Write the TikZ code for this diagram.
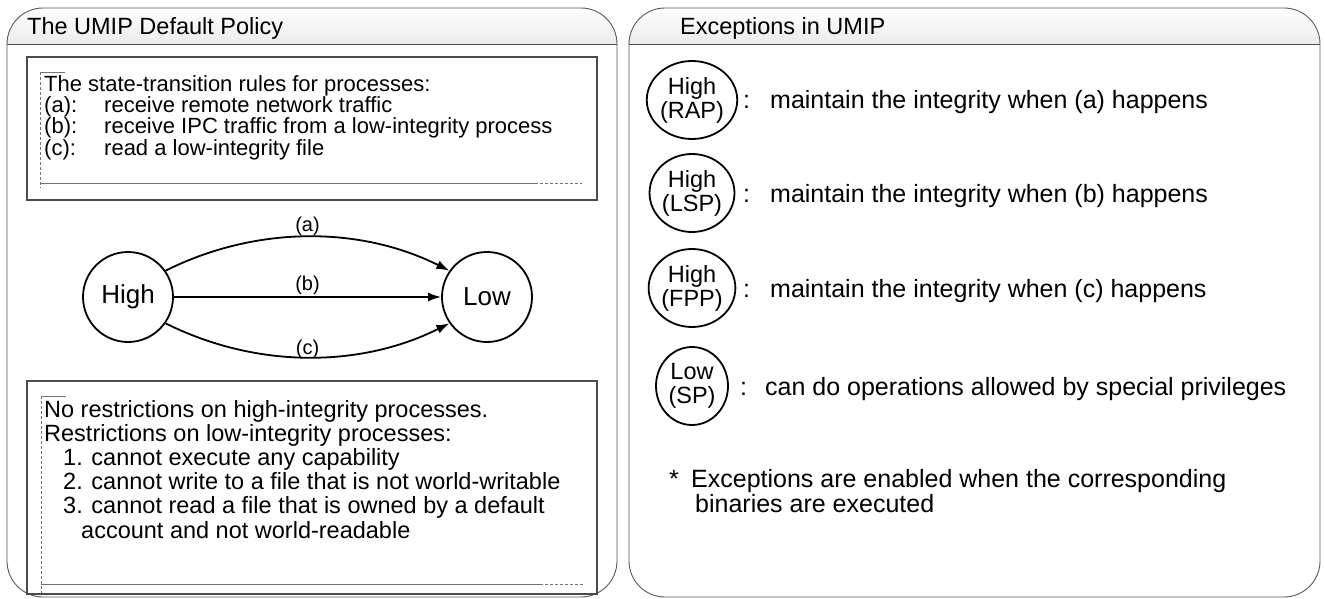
\documentclass[tikz,border=0pt]{standalone}
\usepackage{fontspec}
\setmainfont{Liberation Sans}
\usetikzlibrary{arrows.meta,shapes.geometric}
\begin{document}
\begin{tikzpicture}[x=1pt,y=-1pt,
  panel/.style={draw=black!65, line width=0.9pt, rounded corners=36pt},
  box/.style={draw=black!70, line width=1.2pt},
  frm/.style={draw=black!55, line width=0.8pt},
  frmd/.style={draw=black!55, line width=0.8pt, dash pattern=on 3pt off 2pt},
  hdr/.style={inner sep=0pt, anchor=base west, font=\fontsize{23.5}{25}\selectfont},
  tone/.style={inner sep=0pt, anchor=base west, font=\fontsize{22}{23}\selectfont},
  ttwo/.style={inner sep=0pt, anchor=base west, font=\fontsize{23.5}{25}\selectfont},
  rt/.style={inner sep=0pt, anchor=base west, font=\fontsize{25}{27}\selectfont},
  state/.style={circle, draw, line width=1.8pt, minimum size=90pt, inner sep=0pt, font=\fontsize{26}{28}\selectfont},
  exc/.style={ellipse, draw, line width=1.8pt, minimum width=72pt, minimum height=78pt, inner sep=0pt, align=center, font=\fontsize{23.5}{24}\selectfont},
  arr/.style={line width=1.8pt, -{Latex[length=13pt,width=9pt]}},
  lbl/.style={font=\fontsize{20}{22}\selectfont, inner sep=1pt, anchor=south},
]
\useasboundingbox (0,0) rectangle (1325,599);

% ---------------- left panel
\begin{scope}
\clip[rounded corners=36pt] (7,8) rectangle (617,597);
\shade[top color=white, bottom color=black!8] (7,8) rectangle (617,45);
\end{scope}
\draw[panel] (7,8) rectangle (617,597);
\draw[black!70, line width=1pt] (7,45) -- (617,45);
\node[hdr] (lhead) at (27,35) {The UMIP Default Policy};

% box 1
\draw[box] (27,57) rectangle (597,200);
\draw[frm] (40,72) -- (65,72);
\draw[frmd] (40,72) -- (40,188);
\draw[frm] (40,183) -- (535,183);
\draw[frmd] (535,183) -- (582,183);
\node[tone] (r0) at (44,92) {The state-transition rules for processes:};
\node[tone] (ra) at (44,113) {\makebox[60pt][l]{(a):}receive remote network traffic};
\node[tone] (rb) at (44,134) {\makebox[60pt][l]{(b):}receive IPC traffic from a low-integrity process};
\node[tone] (rc) at (44,155) {\makebox[60pt][l]{(c):}read a low-integrity file};

% graph
\node[state] (high) at (128,297) {High};
\node[state] (low) at (487,297) {Low};
\draw[arr] (high) -- node[lbl] (lb) {(b)} (low);
\draw[arr] (high.35) .. controls +(90,-45) and +(-90,-45) .. node[lbl, pos=0.5, inner sep=0pt] (la) {(a)} (low.145);
\draw[arr] (high.-35) .. controls +(90,45) and +(-90,45) .. node[lbl, pos=0.5, inner sep=0pt, yshift=-2pt] (lc) {(c)} (low.-145);

% box 2
\draw[box] (27,381) rectangle (597,594);
\draw[frm] (41,396) -- (66,396);
\draw[frmd] (41,396) -- (41,593);
\draw[frm] (41,584) -- (540,584);
\draw[frmd] (540,584) -- (585,584);
\node[ttwo] (s1) at (44,417) {No restrictions on high-integrity processes.};
\node[ttwo] (s2) at (44,441) {Restrictions on low-integrity processes:};
\node[ttwo] (s3) at (63,465) {1. cannot execute any capability};
\node[ttwo] (s4) at (63,489) {2. cannot write to a file that is not world-writable};
\node[ttwo] (s5) at (63,513) {3. cannot read a file that is owned by a default};
\node[ttwo] (s6) at (81,538) {account and not world-readable};

% ---------------- right panel
\begin{scope}
\clip[rounded corners=36pt] (629,8) rectangle (1320,597);
\shade[top color=white, bottom color=black!8] (629,8) rectangle (1320,45);
\end{scope}
\draw[panel] (629,8) rectangle (1320,597);
\draw[black!70, line width=1pt] (629,45) -- (1320,45);
\node[hdr] (rhead) at (680,35) {Exceptions in UMIP};

\node[exc] (rap) at (692,100) {High\\(RAP)};
\node[rt] (k1) at (743,109) {:};
\node[rt] (e1) at (770,109) {maintain the integrity when (a) happens};
\node[exc] (lsp) at (692,193) {High\\(LSP)};
\node[rt] (k2) at (743,202) {:};
\node[rt] (e2) at (770,202) {maintain the integrity when (b) happens};
\node[exc] (fpp) at (692,288) {High\\(FPP)};
\node[rt] (k3) at (743,297) {:};
\node[rt] (e3) at (770,297) {maintain the integrity when (c) happens};
\node[exc] (sp) at (692,386) {Low\\(SP)};
\node[rt] (k4) at (740,395) {:};
\node[rt] (e4) at (765,395) {can do operations allowed by special privileges};

\node[rt] (star) at (669,487) {*};
\node[rt] (n1) at (691,487) {Exceptions are enabled when the corresponding};
\node[rt] (n2) at (695,512) {binaries are executed};
\end{tikzpicture}
\end{document}
